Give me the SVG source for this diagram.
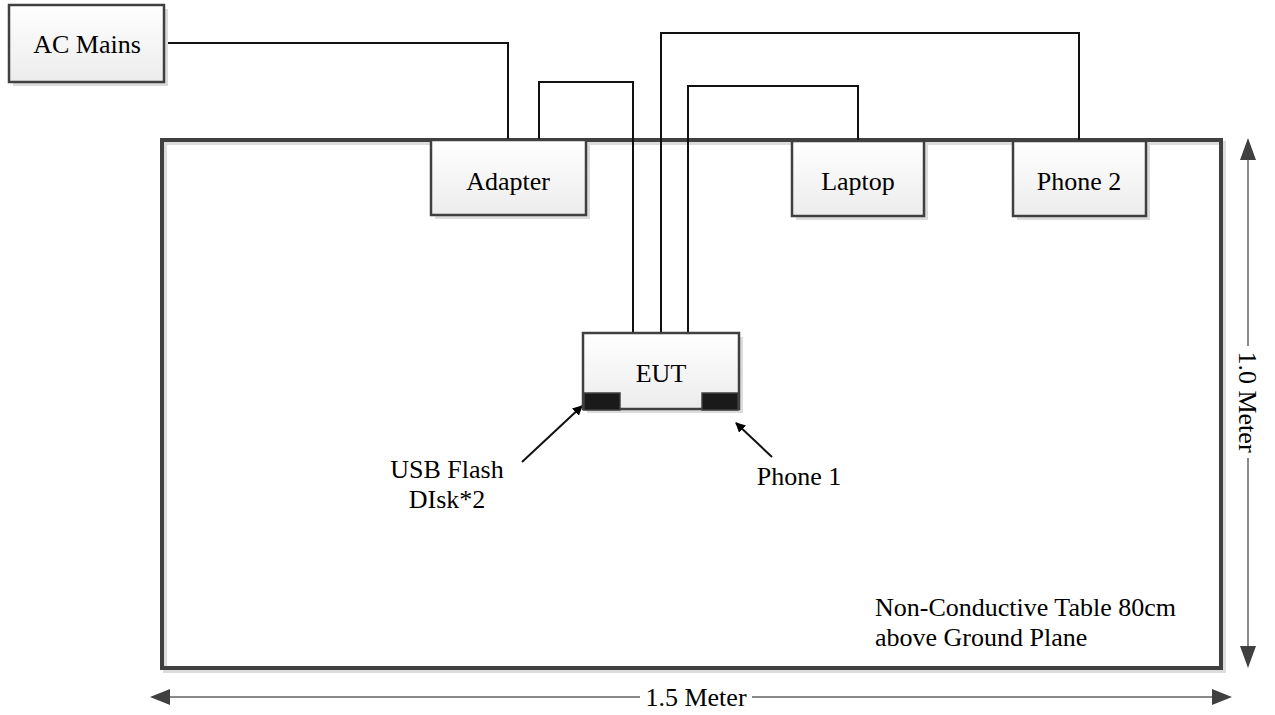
<svg xmlns="http://www.w3.org/2000/svg" width="1275" height="715" viewBox="0 0 1275 715">
<defs>
<linearGradient id="boxfill" x1="0" y1="0" x2="0" y2="1">
<stop offset="0" stop-color="#ffffff"/>
<stop offset="1" stop-color="#ececec"/>
</linearGradient>
<marker id="arr" markerWidth="10" markerHeight="10" refX="9" refY="5" orient="auto" markerUnits="userSpaceOnUse" viewBox="0 0 10 10">
<path d="M0,0 L10,5 L0,10 z" fill="#000"/>
</marker>
</defs>
<style>
.box{fill:url(#boxfill);stroke:#404040;stroke-width:2.5}
.shadow{fill:#dcdcdc}
.lbl{font-family:"Liberation Serif","Times New Roman",serif;font-size:26px;fill:#000}
.mid{text-anchor:middle}
.wire{fill:none;stroke:#111;stroke-width:2}
.port{fill:#1a1a1a;stroke:#404040;stroke-width:1.5}
.dimline{stroke:#8a8a8a;stroke-width:2;fill:none}
</style>
<rect width="1275" height="715" fill="#fff"/>

<g id="table">
<rect x="165" y="143" width="1059" height="528" fill="none" stroke="#dcdcdc" stroke-width="4"/>
<rect x="162" y="140" width="1059" height="528" fill="none" stroke="#404040" stroke-width="4"/>
<text class="lbl" x="875" y="616">Non-Conductive Table 80cm</text>
<text class="lbl" x="875" y="646">above Ground Plane</text>
</g>

<g id="connectors">
<polyline class="wire" points="165,43 508,43 508,140"/>
<polyline class="wire" points="539,140 539,82 633,82 633,333"/>
<polyline class="wire" points="661,333 661,33 1079,33 1079,141"/>
<polyline class="wire" points="688,333 688,86 858,86 858,141"/>
<line class="wire" x1="522" y1="462" x2="582" y2="406" marker-end="url(#arr)"/>
<line class="wire" x1="772" y1="457" x2="736" y2="423" marker-end="url(#arr)"/>
</g>

<g id="ac-mains">
<rect class="shadow" x="13" y="9" width="155" height="77"/>
<rect class="box" x="9" y="5" width="155" height="77"/>
<text class="lbl mid" x="87" y="53">AC Mains</text>
</g>

<g id="adapter">
<rect class="shadow" x="435" y="144" width="155" height="75"/>
<rect class="box" x="431" y="140" width="155" height="75"/>
<text class="lbl mid" x="508" y="190">Adapter</text>
</g>

<g id="laptop">
<rect class="shadow" x="796" y="145" width="132" height="75"/>
<rect class="box" x="792" y="141" width="132" height="75"/>
<text class="lbl mid" x="858" y="190">Laptop</text>
</g>

<g id="phone2">
<rect class="shadow" x="1017" y="145" width="133" height="75"/>
<rect class="box" x="1013" y="141" width="133" height="75"/>
<text class="lbl mid" x="1079" y="190">Phone 2</text>
</g>

<g id="eut">
<rect class="shadow" x="587" y="337" width="156" height="76"/>
<rect class="box" x="583" y="333" width="156" height="76"/>
<text class="lbl mid" x="661" y="382">EUT</text>
<rect class="port" x="584" y="393" width="36" height="17"/>
<rect class="port" x="702" y="393" width="36" height="17"/>
</g>

<g id="usb-label">
<text class="lbl mid" x="447" y="478">USB Flash</text>
<text class="lbl mid" x="447" y="508">DIsk*2</text>
</g>

<g id="phone1-label">
<text class="lbl mid" x="799" y="485">Phone 1</text>
</g>

<g id="dimensions">
<line class="dimline" x1="1248" y1="160" x2="1248" y2="646"/>
<polygon points="1248,138 1240,160 1256,160" fill="#404040"/>
<polygon points="1248,668 1240,646 1256,646" fill="#404040"/>
<rect x="1236" y="346" width="24" height="112" fill="#fff"/>
<text class="lbl mid" x="1248" y="402" transform="rotate(90 1248 402)" dy="9">1.0 Meter</text>
<line class="dimline" x1="170" y1="697" x2="1212" y2="697"/>
<polygon points="150,697 170,689 170,705" fill="#404040"/>
<polygon points="1232,697 1212,689 1212,705" fill="#404040"/>
<rect x="640" y="684" width="112" height="26" fill="#fff"/>
<text class="lbl mid" x="696" y="706">1.5 Meter</text>
</g>
</svg>
